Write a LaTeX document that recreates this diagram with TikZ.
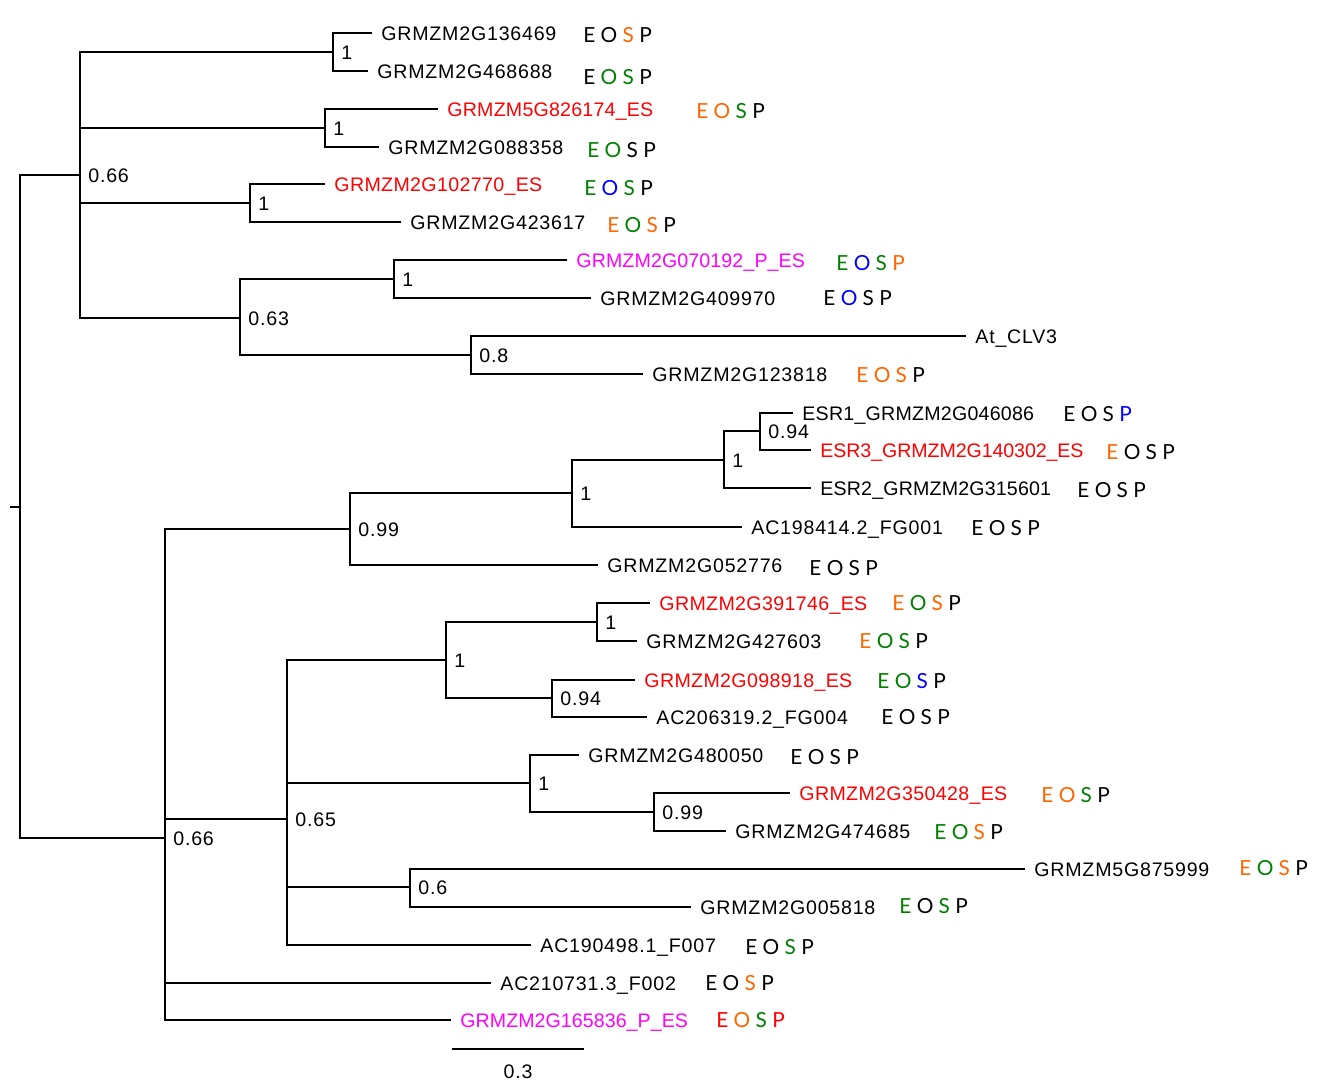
\documentclass[tikz,border=0pt]{standalone}
\usepackage{fontspec}
\setmainfont{Liberation Sans}[LetterSpace=4]
\newfontfamily\eospfont{Lato}
\definecolor{orng}{HTML}{FF6600}
\definecolor{grn}{HTML}{008000}
\definecolor{blu}{HTML}{0000FF}
\definecolor{rd}{HTML}{FF0000}
\definecolor{mag}{HTML}{FF00FF}
\newcommand{\eosp}[4]{{\color{#1}E} {\color{#2}O} {\color{#3}S} {\color{#4}P}}
\begin{document}
\begin{tikzpicture}[x=0.5pt,y=-0.5pt,
    branch/.style={line width=0.7pt},
    leaf/.style={anchor=west,inner xsep=4.5pt,inner ysep=0pt,text height=7pt,text depth=0pt,font=\fontsize{9.8}{11}\selectfont},
    ls/.style={font=\fontsize{9.8}{11}\selectfont\addfontfeature{LetterSpace=#1}},
    boot/.style={anchor=west,inner xsep=4pt,inner ysep=0pt,text height=7pt,text depth=0pt,font=\fontsize{9.8}{11}\selectfont},
    eosp/.style={anchor=west,inner sep=0pt,text height=7.5pt,text depth=0pt,font=\eospfont\fontsize{10.4}{13}\selectfont}]
\useasboundingbox (0,0) rectangle (1342,1083);

% 内部节点
\coordinate (stub) at (10,507);
\coordinate (root) at (20,507);
\coordinate (a) at (80,175);
\coordinate (a1) at (333,52);
\coordinate (a2) at (325,128);
\coordinate (a3) at (250,203);
\coordinate (a4) at (240,318);
\coordinate (a41) at (394,279);
\coordinate (a42) at (471,355);
\coordinate (b) at (165,838);
\coordinate (b1) at (350,529);
\coordinate (b11) at (572,493);
\coordinate (b111) at (724,460);
\coordinate (b1111) at (760,431);
\coordinate (b2) at (287,819);
\coordinate (b21) at (446,660);
\coordinate (b211) at (597,622);
\coordinate (b212) at (552,698);
\coordinate (b22) at (530,783);
\coordinate (b221) at (654,812);
\coordinate (b23) at (410,887);

% 支持率
\node[boot] (ta) at (a) {0.66};
\node[boot] (ta1) at (a1) {1};
\node[boot] (ta2) at (a2) {1};
\node[boot] (ta3) at (a3) {1};
\node[boot] (ta4) at (a4) {0.63};
\node[boot] (ta41) at (a41) {1};
\node[boot] (ta42) at (a42) {0.8};
\node[boot] (tb) at (b) {0.66};
\node[boot] (tb1) at (b1) {0.99};
\node[boot] (tb11) at (b11) {1};
\node[boot] (tb111) at (b111) {1};
\node[boot] (tb1111) at (b1111) {0.94};
\node[boot] (tb2) at (b2) {0.65};
\node[boot] (tb21) at (b21) {1};
\node[boot] (tb211) at (b211) {1};
\node[boot] (tb212) at (b212) {0.94};
\node[boot] (tb22) at (b22) {1};
\node[boot] (tb221) at (b221) {0.99};
\node[boot] (tb23) at (b23) {0.6};

% 叶子
\node[leaf] (l1) at (372,33) {GRMZM2G136469};
\node[leaf] (l2) at (368,71) {GRMZM2G468688};
\node[leaf,ls=1.1,text=rd] (l3) at (438,109) {GRMZM5G826174\_ES};
\node[leaf] (l4) at (379,147) {GRMZM2G088358};
\node[leaf,ls=1.8,text=rd] (l5) at (325,184) {GRMZM2G102770\_ES};
\node[leaf] (l6) at (401,222) {GRMZM2G423617};
\node[leaf,ls=0.6,text=mag] (l7) at (567,260) {GRMZM2G070192\_P\_ES};
\node[leaf] (l8) at (591,298) {GRMZM2G409970};
\node[leaf] (l9) at (966,336) {At\_CLV3};
\node[leaf] (l10) at (643,374) {GRMZM2G123818};
\node[leaf,ls=1.2] (l11) at (793,413) {ESR1\_GRMZM2G046086};
\node[leaf,ls=-0.4,text=rd] (l12) at (811,450) {ESR3\_GRMZM2G140302\_ES};
\node[leaf,ls=0.9] (l13) at (811,488) {ESR2\_GRMZM2G315601};
\node[leaf] (l14) at (742,527) {AC198414.2\_FG001};
\node[leaf] (l15) at (598,565) {GRMZM2G052776};
\node[leaf,ls=1.8,text=rd] (l16) at (650,603) {GRMZM2G391746\_ES};
\node[leaf] (l17) at (637,641) {GRMZM2G427603};
\node[leaf,ls=1.8,text=rd] (l18) at (635,680) {GRMZM2G098918\_ES};
\node[leaf] (l19) at (647,717) {AC206319.2\_FG004};
\node[leaf] (l20) at (579,755) {GRMZM2G480050};
\node[leaf,ls=1.8,text=rd] (l21) at (790,793) {GRMZM2G350428\_ES};
\node[leaf] (l22) at (726,831) {GRMZM2G474685};
\node[leaf] (l23) at (1025,869) {GRMZM5G875999};
\node[leaf] (l24) at (691,907) {GRMZM2G005818};
\node[leaf] (l25) at (531,945) {AC190498.1\_F007};
\node[leaf] (l26) at (491,983) {AC210731.3\_F002};
\node[leaf,ls=0.3,text=mag] (l27) at (451,1020) {GRMZM2G165836\_P\_ES};

% 表达标记
\node[eosp] (e1) at (583,35) {\eosp{black}{black}{orng}{black}};
\node[eosp] (e2) at (583,77) {\eosp{black}{grn}{grn}{black}};
\node[eosp] (e3) at (696,111) {\eosp{orng}{orng}{grn}{black}};
\node[eosp] (e4) at (587,150) {\eosp{grn}{grn}{black}{black}};
\node[eosp] (e5) at (584,188) {\eosp{grn}{blu}{grn}{black}};
\node[eosp] (e6) at (607,225) {\eosp{orng}{grn}{orng}{black}};
\node[eosp] (e7) at (836,263) {\eosp{grn}{blu}{grn}{orng}};
\node[eosp] (e8) at (823,298) {\eosp{black}{blu}{black}{black}};
\node[eosp] (e10) at (856,375) {\eosp{orng}{orng}{orng}{black}};
\node[eosp] (e11) at (1063,414) {\eosp{black}{black}{black}{blu}};
\node[eosp] (e12) at (1106,452) {\eosp{orng}{black}{black}{black}};
\node[eosp] (e13) at (1077,490) {\eosp{black}{black}{black}{black}};
\node[eosp] (e14) at (971,528) {\eosp{black}{black}{black}{black}};
\node[eosp] (e15) at (809,568) {\eosp{black}{black}{black}{black}};
\node[eosp] (e16) at (892,603) {\eosp{orng}{grn}{orng}{black}};
\node[eosp] (e17) at (859,641) {\eosp{orng}{grn}{grn}{black}};
\node[eosp] (e18) at (877,681) {\eosp{grn}{grn}{blu}{black}};
\node[eosp] (e19) at (881,717) {\eosp{black}{black}{black}{black}};
\node[eosp] (e20) at (790,757) {\eosp{black}{black}{black}{black}};
\node[eosp] (e21) at (1041,795) {\eosp{orng}{orng}{grn}{black}};
\node[eosp] (e22) at (934,832) {\eosp{grn}{grn}{orng}{black}};
\node[eosp] (e23) at (1239,868) {\eosp{orng}{grn}{orng}{black}};
\node[eosp] (e24) at (899,906) {\eosp{grn}{black}{grn}{black}};
\node[eosp] (e25) at (745,947) {\eosp{black}{black}{grn}{black}};
\node[eosp] (e26) at (705,983) {\eosp{black}{black}{orng}{black}};
\node[eosp] (e27) at (716,1020) {\eosp{rd}{orng}{grn}{rd}};

% 树枝
\draw[branch] (stub) -- (root);
\draw[branch] (root) |- (a);
\draw[branch] (root) |- (b);
\draw[branch] (a) |- (a1);
\draw[branch] (a) |- (a2);
\draw[branch] (a) |- (a3);
\draw[branch] (a) |- (a4);
\draw[branch] (a1) |- (l1.west);
\draw[branch] (a1) |- (l2.west);
\draw[branch] (a2) |- (l3.west);
\draw[branch] (a2) |- (l4.west);
\draw[branch] (a3) |- (l5.west);
\draw[branch] (a3) |- (l6.west);
\draw[branch] (a4) |- (a41);
\draw[branch] (a4) |- (a42);
\draw[branch] (a41) |- (l7.west);
\draw[branch] (a41) |- (l8.west);
\draw[branch] (a42) |- (l9.west);
\draw[branch] (a42) |- (l10.west);
\draw[branch] (b) |- (b1);
\draw[branch] (b) |- (b2);
\draw[branch] (b) |- (l26.west);
\draw[branch] (b) |- (l27.west);
\draw[branch] (b1) |- (b11);
\draw[branch] (b1) |- (l15.west);
\draw[branch] (b11) |- (b111);
\draw[branch] (b11) |- (l14.west);
\draw[branch] (b111) |- (b1111);
\draw[branch] (b111) |- (l13.west);
\draw[branch] (b1111) |- (l11.west);
\draw[branch] (b1111) |- (l12.west);
\draw[branch] (b2) |- (b21);
\draw[branch] (b2) |- (b22);
\draw[branch] (b2) |- (b23);
\draw[branch] (b2) |- (l25.west);
\draw[branch] (b21) |- (b211);
\draw[branch] (b21) |- (b212);
\draw[branch] (b211) |- (l16.west);
\draw[branch] (b211) |- (l17.west);
\draw[branch] (b212) |- (l18.west);
\draw[branch] (b212) |- (l19.west);
\draw[branch] (b22) |- (l20.west);
\draw[branch] (b22) |- (b221);
\draw[branch] (b221) |- (l21.west);
\draw[branch] (b221) |- (l22.west);
\draw[branch] (b23) |- (l23.west);
\draw[branch] (b23) |- (l24.west);

% 比例尺
\coordinate (s0) at (452,1049);
\coordinate (s1) at (584,1049);
\draw[branch] (s0) -- (s1);
\node[boot,anchor=center] (sl) at (518,1071) {0.3};
\end{tikzpicture}
\end{document}
